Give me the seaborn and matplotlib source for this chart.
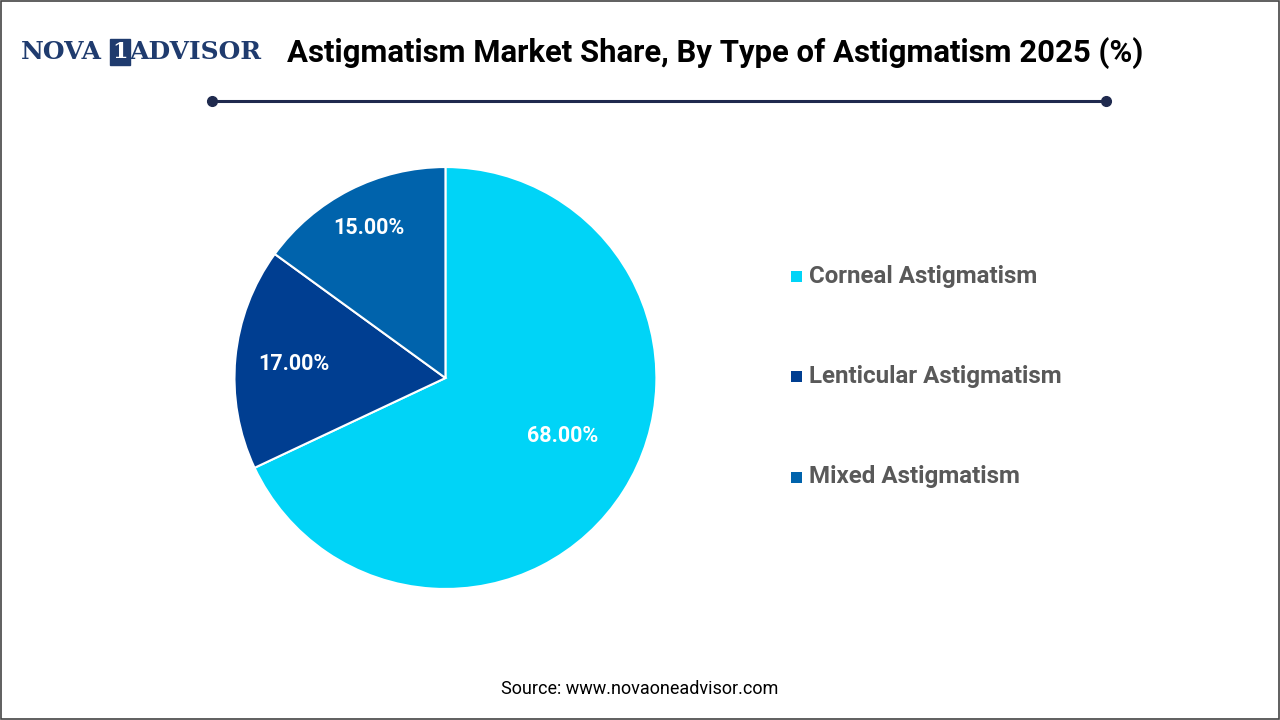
import numpy as np
import matplotlib.pyplot as plt
import seaborn as sns
from matplotlib.patches import Rectangle

# data
categories = ['Corneal Astigmatism', 'Lenticular Astigmatism', 'Mixed Astigmatism']
shares = [68.0, 17.0, 15.0]
colors = ['#00D4F7', '#003E91', '#0063AC']
label_dist = [0.62, 0.72, 0.80]

sns.set_theme(style='white')
plt.rcParams['font.family'] = ['Roboto', 'DejaVu Sans']

fig = plt.figure(figsize=(12.8, 7.2), dpi=100)
fig.patches.append(Rectangle((0.001, 0.001), 0.998, 0.998, transform=fig.transFigure,
                             fill=False, edgecolor='#444444', lw=1.2))

# title + logo
fig.text(0.016, 0.928, 'NOVA', fontsize=18, fontweight='bold', family='DejaVu Serif',
         color='#1F3B6E', va='center')
fig.text(0.0875, 0.928, '1', fontsize=16, fontweight='bold', family='DejaVu Serif',
         color='white', va='center',
         bbox=dict(boxstyle='square,pad=0.1', fc='#1F3B6E', ec='#1F3B6E'))
fig.text(0.101, 0.928, 'ADVISOR', fontsize=18, fontweight='bold', family='DejaVu Serif',
         color='#1F3B6E', va='center')
fig.text(0.224, 0.926, 'Astigmatism Market Share, By Type of Astigmatism 2025 (%)',
         fontsize=22.4, fontweight='bold', color='black', va='center')
fig.add_artist(plt.Line2D([0.166, 0.864], [0.86, 0.86], color='#1F2A4E', lw=2.2,
                          marker='o', markersize=7, markevery=[0, 1]))

# pie
ax = fig.add_axes([0.183, 0.182, 0.33, 0.586])
wedges, _ = ax.pie(shares, colors=colors, startangle=90, counterclock=False,
                   wedgeprops=dict(edgecolor='white', linewidth=1.5))
for w, v, d in zip(wedges, shares, label_dist):
    th = np.deg2rad((w.theta1 + w.theta2) / 2 + (6 if v > 50 else 0))
    ax.text(d * np.cos(th), d * np.sin(th), f'{v:.2f}%', ha='center', va='center',
            color='white', fontsize=15.5, fontweight='bold')
ax.set_xlim(-1.0, 1.0)
ax.set_ylim(-1.0, 1.0)
ax.set_aspect('equal')

# legend
for i, (c, col) in enumerate(zip(categories, colors)):
    y = 1 - (276 + i * 100.5) / 720
    fig.patches.append(Rectangle((0.618, y - 0.008), 0.0085, 0.015, transform=fig.transFigure,
                                 fc=col, ec='none'))
    fig.text(0.632, y, c, fontsize=17.4, fontweight='bold', color='#595959', va='center')

fig.text(0.5, 0.036, 'Source: www.novaoneadvisor.com', fontsize=13, ha='center', color='black')

fig.savefig('out.png', dpi=100)
